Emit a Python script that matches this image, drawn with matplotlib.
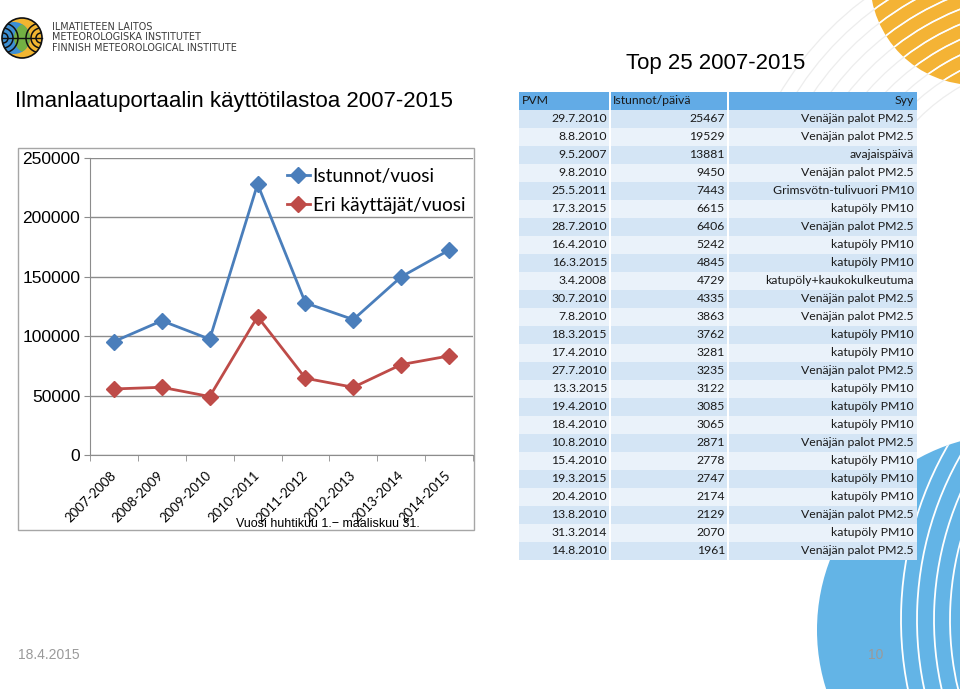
import matplotlib
matplotlib.use("Agg")
import matplotlib.pyplot as plt
from matplotlib.patches import Rectangle, Circle, Arc
import numpy as np

# chart data
years = ["2007-2008", "2008-2009", "2009-2010", "2010-2011",
         "2011-2012", "2012-2013", "2013-2014", "2014-2015"]
sessions = [95500, 113000, 97500, 228000, 128000, 114000, 150000, 172500]
users = [55600, 57000, 49200, 116500, 64600, 57000, 76100, 83400]

# top 25 table
dates = ["29.7.2010", "8.8.2010", "9.5.2007", "9.8.2010", "25.5.2011", "17.3.2015",
         "28.7.2010", "16.4.2010", "16.3.2015", "3.4.2008", "30.7.2010", "7.8.2010",
         "18.3.2015", "17.4.2010", "27.7.2010", "13.3.2015", "19.4.2010", "18.4.2010",
         "10.8.2010", "15.4.2010", "19.3.2015", "20.4.2010", "13.8.2010", "31.3.2014",
         "14.8.2010"]
daily = [25467, 19529, 13881, 9450, 7443, 6615, 6406, 5242, 4845, 4729, 4335, 3863,
         3762, 3281, 3235, 3122, 3085, 3065, 2871, 2778, 2747, 2174, 2129, 2070, 1961]
fire = "Venäjän palot PM2.5"
dust = "katupöly PM10"
reasons = [fire, fire, "avajaispäivä", fire, "Grimsvötn-tulivuori PM10", dust,
           fire, dust, dust, "katupöly+kaukokulkeutuma", fire, fire,
           dust, dust, fire, dust, dust, dust, fire, dust, dust, dust, fire, dust, fire]

BLUE = "#4A7EBB"
RED = "#BE4B48"
GRID = "#8C8C8C"
SANS = ["Liberation Sans", "DejaVu Sans"]
CAL = ["Lato", "DejaVu Sans"]
TFS = 8.8  # table font size

fig = plt.figure(figsize=(9.6, 6.89), dpi=100)

# overlay in pixel coordinates for the slide decorations and the table
ov = fig.add_axes([0, 0, 1, 1], zorder=0)
ov.set_xlim(0, 960)
ov.set_ylim(689, 0)
ov.axis("off")

# background arcs + yellow sun top right
sun = Circle((975, -20), 105, color="#F4B335", lw=0)
ov.add_patch(sun)
for r in np.arange(200, 340, 14):
    ov.add_patch(Arc((1060, 260), 2 * r, 2 * r, theta1=180, theta2=300,
                     color="#EDEDED", lw=0.9))
    a = Arc((1060, 260), 2 * r, 2 * r, theta1=180, theta2=300, color="white", lw=1.2)
    ov.add_patch(a)
    a.set_clip_path(sun)

# blue circle bottom right
moon = Circle((1013, 630), 196, color="#63B4E6", lw=0)
ov.add_patch(moon)
for r in [300, 316, 333, 349]:
    a = Arc((1250, 620), 2 * r, 2 * r, theta1=150, theta2=215, color="white", lw=1.3)
    ov.add_patch(a)
    a.set_clip_path(moon)

# logo
lc = Circle((22, 38), 20, color="#F2B530", lw=0)
ov.add_patch(lc)
bl = Circle((14, 38), 16, color="#3D8FD4", lw=0)
ov.add_patch(bl)
bl.set_clip_path(lc)
gr = Circle((30, 38), 16, color="#73B043", lw=0)
ov.add_patch(gr)
gr.set_clip_path(bl)
for r in [5, 10, 15]:
    a = Arc((3, 38), 2 * r, 2 * r, theta1=-90, theta2=90, color="#111111", lw=1.1)
    ov.add_patch(a)
    a.set_clip_path(lc)
    a = Arc((41, 38), 2 * r, 2 * r, theta1=90, theta2=270, color="#111111", lw=1.1)
    ov.add_patch(a)
    a.set_clip_path(lc)
ov.add_patch(Circle((22, 38), 20, fill=False, ec="#111111", lw=1.2))
ov.plot([2, 42], [38, 38], color="#111111", lw=1.0)
for i, t in enumerate(["ILMATIETEEN LAITOS", "METEOROLOGISKA INSTITUTET",
                       "FINNISH METEOROLOGICAL INSTITUTE"]):
    ov.text(52, 27 + i * 10.5, t, fontsize=6.9, color="#3A3A3A", va="center",
            family="DejaVu Sans")

# titles and footer
ov.text(15, 102, "Ilmanlaatuportaalin käyttötilastoa 2007-2015", fontsize=16,
        family=SANS, va="center", ha="left")
ov.text(626, 64, "Top 25 2007-2015", fontsize=16, family=SANS, va="center", ha="left")
ov.text(18, 655, "18.4.2015", fontsize=10, family=SANS, color="#9A9A9A", va="center")
ov.text(876, 655, "10", fontsize=10, family=SANS, color="#9A9A9A", va="center",
        ha="center")

# chart frame
ov.add_patch(Rectangle((18, 148), 456, 382, fill=False, ec="#A6A6A6", lw=1))
ov.text(328, 524, "Vuosi huhtikuu 1.\u2212 maaliskuu 31.", fontsize=9,
        family=SANS, ha="center", va="center")

# table
cols = [(519, 609), (611, 727), (729, 917)]
row_h = 18
top = 92
hdr = "#62ABE6"
for (x0, x1) in cols:
    ov.add_patch(Rectangle((x0, top), x1 - x0, row_h, color=hdr, lw=0))
ov.text(522, top + 9, "PVM", fontsize=TFS, family=CAL, va="center", color="#1A1A1A")
ov.text(613, top + 9, "Istunnot/päivä", fontsize=TFS, family=CAL, va="center",
        color="#1A1A1A")
ov.text(914, top + 9, "Syy", fontsize=TFS, family=CAL, va="center", ha="right",
        color="#1A1A1A")
for i, (d, n, s) in enumerate(zip(dates, daily, reasons)):
    y = top + row_h * (i + 1)
    fc = "#D4E5F5" if i % 2 == 0 else "#EAF2FA"
    for (x0, x1) in cols:
        ov.add_patch(Rectangle((x0, y), x1 - x0, row_h, color=fc, lw=0))
    yc = y + row_h / 2
    ov.text(607, yc, d, fontsize=TFS, family=CAL, va="center", ha="right", color="#1A1A1A")
    ov.text(725, yc, str(n), fontsize=TFS, family=CAL, va="center", ha="right",
            color="#1A1A1A")
    ov.text(914, yc, s, fontsize=TFS, family=CAL, va="center", ha="right", color="#1A1A1A")

# line chart
ax = fig.add_axes([90 / 960, 1 - 455 / 689, (473 - 90) / 960, (455 - 158) / 689], zorder=2)
ax.patch.set_alpha(0)
x = np.arange(len(years))
ax.plot(x, sessions, color=BLUE, lw=2, marker="D", ms=8, label="Istunnot/vuosi")
ax.plot(x, users, color=RED, lw=2, marker="D", ms=8, label="Eri käyttäjät/vuosi")
ax.set_xlim(-0.5, len(years) - 0.5)
ax.set_ylim(0, 250000)
ax.set_yticks(np.arange(0, 250001, 50000))
ax.set_yticklabels([str(v) for v in range(0, 250001, 50000)], family=SANS, fontsize=12.5)
ax.yaxis.grid(True, color=GRID, lw=1)
ax.set_axisbelow(True)
ax.set_xticks(x)
ax.set_xticklabels(years, rotation=45, ha="right", va="center", rotation_mode="anchor",
                   family=CAL, fontsize=9.5)
ax.set_xticks(np.arange(-0.5, len(years)), minor=True)
ax.tick_params(axis="x", which="major", length=0, pad=13)
ax.tick_params(axis="x", which="minor", length=4, color=GRID, direction="out")
ax.tick_params(axis="y", length=4, color=GRID, pad=3)
for s in ["top", "right"]:
    ax.spines[s].set_visible(False)
for s in ["left", "bottom"]:
    ax.spines[s].set_color(GRID)

ax.legend(loc="upper left", bbox_to_anchor=(287, 168), bbox_transform=ov.transData,
          frameon=False, prop={"family": CAL, "size": 13.7}, handlelength=1.2,
          handletextpad=0.15, labelspacing=0.62, borderpad=0, borderaxespad=0)

fig.savefig("out.png", dpi=100)
